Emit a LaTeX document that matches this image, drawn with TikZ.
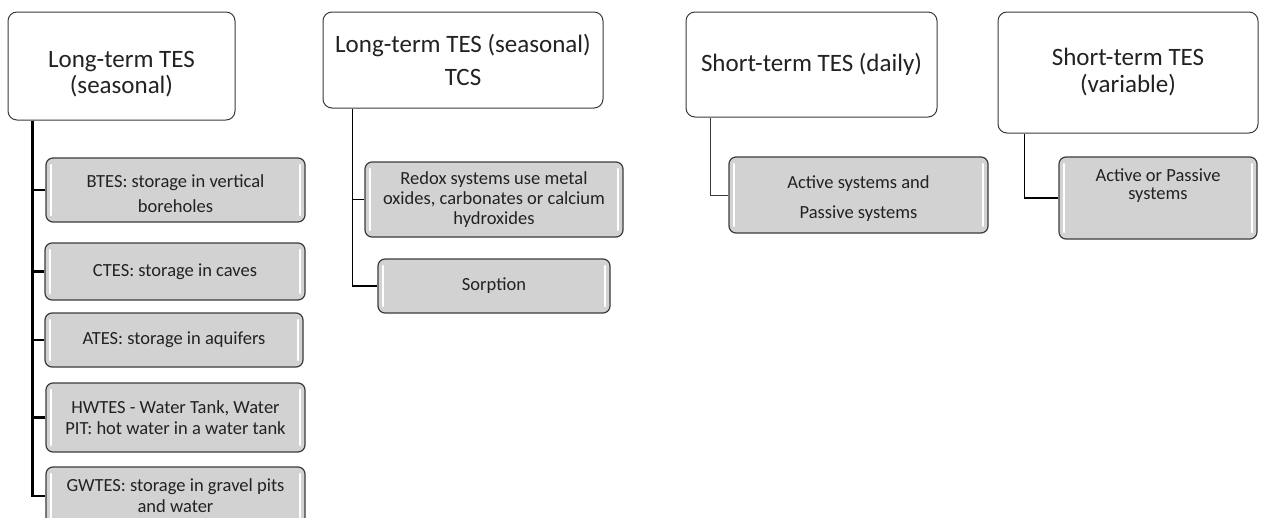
\documentclass[tikz,border=0pt]{standalone}
\usepackage{fontspec}
\setmainfont{Carlito}
\definecolor{bord}{HTML}{3A3A3A}
\definecolor{cfill}{HTML}{D2D2D2}
\definecolor{txt}{HTML}{222222}
\tikzset{
  hdr/.style={draw=bord, line width=1pt, fill=white, rounded corners=9pt,
    align=center, text=txt, inner sep=0pt,
    font=\fontsize{25}{31}\selectfont},
  child/.style={draw=bord, line width=1.2pt, fill=cfill, rounded corners=7pt,
    align=center, text=txt, inner sep=0pt,
    font=\fontsize{18.5}{25}\selectfont,
    path picture={
      \draw[white, line width=2.2pt, line cap=round]
        ([xshift=5pt,yshift=-7pt]path picture bounding box.north west) --
        ([xshift=5pt,yshift=7pt]path picture bounding box.south west);
      \draw[white, line width=2.2pt, line cap=round]
        ([xshift=-5pt,yshift=-7pt]path picture bounding box.north east) --
        ([xshift=-5pt,yshift=7pt]path picture bounding box.south east);
    }},
  thickconn/.style={draw=black, line width=2.4pt},
  midconn/.style={draw=black, line width=1.6pt},
  thinconn/.style={draw=bord, line width=1pt},
}
\begin{document}
\begin{tikzpicture}[x=1pt, y=-1pt]
\useasboundingbox (0,0) rectangle (1261,517);
\clip (0,0) rectangle (1261,517);
% headers
\node[hdr, minimum width=227pt, minimum height=108pt, font=\fontsize{25}{26}\selectfont] (h1) at (121.5,66) {\rule{0pt}{32pt}Long-term TES\\(seasonal)};
\node[hdr, minimum width=280pt, minimum height=96pt, font=\fontsize{25}{33}\selectfont] (h2) at (463,60) {Long-term TES (seasonal)\\TCS};
\node[hdr, minimum width=251pt, minimum height=105pt] (h3) at (811.5,64.5) {Short-term TES (daily)};
\node[hdr, minimum width=260pt, minimum height=121pt, font=\fontsize{25}{27}\selectfont] (h4) at (1128,72.5) {Short-term TES\\(variable)};
% children of h1
\node[child, minimum width=259pt, minimum height=64pt] (c1) at (175.5,190) {\rule{0pt}{20pt}BTES: storage in vertical\\boreholes};
\node[child, minimum width=260pt, minimum height=57pt] (c2) at (175,271.5) {CTES: storage in caves};
\node[child, minimum width=258pt, minimum height=54pt] (c3) at (174,340) {ATES: storage in aquifers};
\node[child, minimum width=259pt, minimum height=69pt, font=\fontsize{18.5}{20.5}\selectfont] (c4) at (175.5,417.5) {HWTES - Water Tank, Water\\PIT: hot water in a water tank};
\node[child, minimum width=259pt, minimum height=58pt, font=\fontsize{18.5}{21}\selectfont] (c5) at (175.5,496) {GWTES: storage in gravel pits\\and water};
% children of h2
\node[child, minimum width=258pt, minimum height=75pt, font=\fontsize{18.5}{20}\selectfont] (c6) at (494,199.5) {Redox systems use metal\\oxides, carbonates or calcium\\hydroxides};
\node[child, minimum width=232pt, minimum height=54pt] (c7) at (494,286) {Sorption};
% children of h3, h4
\node[child, minimum width=259pt, minimum height=76pt, font=\fontsize{18.5}{30}\selectfont] (c8) at (858.5,195) {\rule{0pt}{20pt}Active systems and\\Passive systems};
\node[child, minimum width=198pt, minimum height=82pt, font=\fontsize{18.5}{18}\selectfont] (c9) at (1158,198) {Active or Passive\\systems\\\rule{0pt}{24pt}};
% connectors
\draw[thickconn] ([xshift=25pt]h1.south west) |- (c1.west);
\draw[thickconn] ([xshift=25pt]h1.south west) |- (c2.west);
\draw[thickconn] ([xshift=25pt]h1.south west) |- (c3.west);
\draw[thickconn] ([xshift=25pt]h1.south west) |- (c4.west);
\draw[thickconn] ([xshift=25pt]h1.south west) |- (c5.west);
\draw[midconn] ([xshift=30pt]h2.south west) |- (c6.west);
\draw[midconn] ([xshift=30pt]h2.south west) |- (c7.west);
\draw[thinconn] ([xshift=25pt]h3.south west) |- (c8.west);
\draw[midconn] ([xshift=27pt]h4.south west) |- (c9.west);
\end{tikzpicture}
\end{document}
